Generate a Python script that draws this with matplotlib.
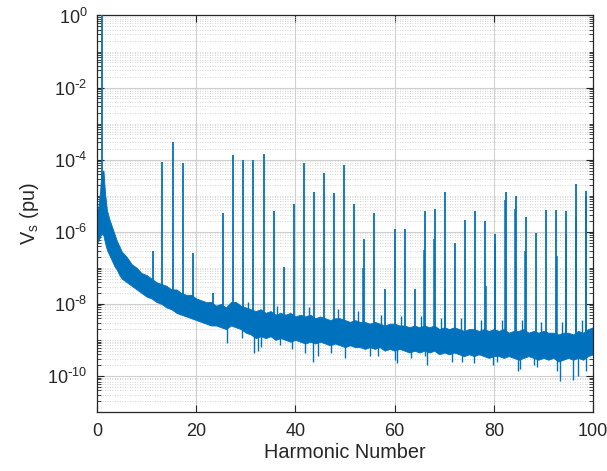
import numpy as np
import matplotlib
matplotlib.use("Agg")
import matplotlib.pyplot as plt
from matplotlib.ticker import FuncFormatter, FixedLocator, NullFormatter

plt.rcParams["font.family"] = ["Liberation Sans", "DejaVu Sans"]
plt.rcParams["mathtext.default"] = "regular"
plt.rcParams["axes.unicode_minus"] = False

# Harmonic spikes: position (harmonic number) and log10 magnitude (pu)
spike_h = [1.02, 11.2, 13.2, 15.3, 17.3, 19.3, 23.4, 25.4, 27.5, 29.5, 31.5,
           33.6, 35.6, 37.6, 39.7, 41.7, 43.7, 45.8, 47.8, 49.8, 51.9, 53.9,
           55.9, 58.0, 60.0, 62.0, 64.1, 66.1, 68.1, 70.2, 72.2, 74.2, 76.3,
           78.3, 80.3, 82.4, 84.4, 86.4, 88.5, 90.5, 92.5, 94.6, 96.6, 98.6]
spike_log = [0.0, -6.53, -4.07, -3.51, -4.08, -6.58, -7.69, -5.49, -3.88, -4.01,
             -4.0, -3.83, -5.43, -6.98, -5.22, -4.09, -4.9, -4.38, -4.93, -4.15,
             -5.24, -6.2, -5.49, -7.6, -5.91, -5.91, -7.6, -5.42, -5.36, -4.91,
             -6.32, -5.66, -5.43, -5.69, -6.05, -4.91, -5.01, -5.6, -6.04, -5.39,
             -5.39, -5.43, -4.68, -4.88]

# Neighbouring sideband lines next to some harmonics
side_h = [53.7, 66.0, 68.0, 70.1, 78.4, 80.2, 82.3, 84.3, 86.3, 92.7, 94.5, 96.5, 98.5]
side_log = [-7.0, -6.5, -6.2, -7.6, -7.5, -6.3, -5.13, -5.36, -6.54, -6.67,
            -6.06, -5.59, -5.0]

# Noise floor band (log10 of upper and lower edges)
floor_h = [0, 0.3, 0.6, 0.9, 1.3, 1.6, 2, 2.5, 3, 3.5, 4, 4.5] + list(range(5, 101))
floor_hi = [-5.5, -5.3, -4.9, -4.35, -4.3, -4.9, -5.4, -5.65, -5.85, -6.05, -6.25, -6.4,
            -6.55, -6.7, -6.9, -7.0, -7.15, -7.2, -7.3, -7.4, -7.45, -7.5,
            -7.6, -7.6, -7.7, -7.75, -7.75, -7.85, -7.9, -7.95, -7.95, -8.05,
            -8.0, -8.1, -7.95, -7.95, -8.05, -8.1, -8.15, -8.2, -8.15, -8.25,
            -8.2, -8.3, -8.25, -8.3, -8.25, -8.35, -8.3, -8.35, -8.3, -8.4,
            -8.35, -8.4, -8.45, -8.4, -8.4, -8.45, -8.5, -8.45, -8.5, -8.5,
            -8.55, -8.5, -8.55, -8.6, -8.55, -8.55, -8.6, -8.6, -8.65, -8.6,
            -8.65, -8.6, -8.65, -8.6, -8.7, -8.65, -8.7, -8.65, -8.7, -8.75,
            -8.7, -8.7, -8.75, -8.7, -8.75, -8.7, -8.75, -8.7, -8.8, -8.75,
            -8.75, -8.7, -8.8, -8.75, -8.8, -8.75, -8.8, -8.8, -8.85, -8.8,
            -8.8, -8.85, -8.75, -8.8, -8.7, -8.65]
floor_lo = [-6.3, -6.25, -6.15, -6.05, -6.1, -6.3, -6.5, -6.65, -6.8, -6.95, -7.05, -7.2,
            -7.3, -7.4, -7.5, -7.6, -7.7, -7.8, -7.85, -7.95, -8.0, -8.1,
            -8.15, -8.25, -8.3, -8.35, -8.4, -8.45, -8.5, -8.55, -8.6, -8.6,
            -8.65, -8.7, -8.6, -8.65, -8.7, -8.8, -8.85, -8.95, -8.9, -8.95,
            -8.9, -9.0, -8.95, -9.0, -9.05, -9.0, -9.05, -9.1, -9.05, -9.1,
            -9.05, -9.1, -9.15, -9.1, -9.15, -9.2, -9.15, -9.2, -9.2, -9.25,
            -9.2, -9.25, -9.2, -9.3, -9.25, -9.3, -9.25, -9.3, -9.35, -9.3,
            -9.35, -9.3, -9.35, -9.3, -9.4, -9.35, -9.4, -9.35, -9.4, -9.45,
            -9.4, -9.45, -9.4, -9.45, -9.5, -9.45, -9.45, -9.5, -9.45, -9.5,
            -9.55, -9.5, -9.45, -9.5, -9.55, -9.5, -9.55, -9.5, -9.6, -9.55,
            -9.5, -9.55, -9.5, -9.55, -9.45, -9.4]

# Downward excursions of the noise floor
dip_h = [26.3, 29.2, 31.6, 32.5, 33.1, 36.9, 39.3, 41.9, 43.6, 44.6, 47.2, 50.0,
         55.0, 56.7, 60.1, 60.4, 63.3, 66.1, 66.5, 71.5, 73.6, 76.0, 79.9, 80.6,
         84.9, 85.3, 88.0, 88.7, 92.7, 93.3, 96.0, 97.0, 98.5]
dip_log = [-9.1, -8.95, -9.35, -9.3, -9.2, -9.15, -9.25, -9.35, -9.6, -9.45,
           -9.35, -9.5, -9.45, -9.45, -9.55, -9.65, -9.5, -9.45, -9.7, -9.6,
           -9.6, -9.65, -9.7, -9.6, -9.85, -9.8, -9.7, -9.75, -9.85, -10.15,
           -10.1, -10.0, -9.85]

# Upward excursions of the noise floor near the harmonic skirts
bump_h = [30.5, 36.3, 42.7, 48.6, 52.7, 57.2, 61.3, 65.4, 69.4, 73.4, 77.5,
          81.6, 85.6, 89.6, 93.7, 97.7]
bump_log = [-7.95, -8.05, -8.1, -8.15, -8.2, -8.3, -8.35, -8.35, -8.4, -8.4,
            -8.45, -8.45, -8.45, -8.5, -8.5, -8.45]

x_ticks = [0, 20, 40, 60, 80, 100]
y_tick_exp = [0, -2, -4, -6, -8, -10]

blue = "#0072BD"
axis_col = "#262626"


def pow10_label(v, pos):
    e = int(round(np.log10(v)))
    if e < 0:
        return r"$10^{\text{-}%d}$" % (-e)
    return r"$10^{%d}$" % e


fig = plt.figure(figsize=(6.07, 4.71), dpi=100)
ax = fig.add_axes([0.1598, 0.1253, 0.8172, 0.8418])
ax.set_yscale("log")

fh = np.array(floor_h, dtype=float)
hi = np.array(floor_hi)
lo = np.array(floor_lo)
mid = 0.5 * (hi + lo)

# noise floor band
ax.fill_between(fh, 10.0 ** lo, 10.0 ** hi, color=blue, lw=0.6, edgecolor=blue, zorder=2)

# excursions below and above the band
dh = np.array(dip_h)
ax.vlines(dh, 10.0 ** np.interp(dh, fh, mid), 10.0 ** np.array(dip_log),
          color=blue, lw=1.0, zorder=2)
bh = np.array(bump_h)
ax.vlines(bh, 10.0 ** np.interp(bh, fh, mid), 10.0 ** np.array(bump_log),
          color=blue, lw=1.0, zorder=2)

# harmonic spikes rising from the band
sh = np.array(spike_h)
ax.vlines(sh, 10.0 ** np.interp(sh, fh, mid), 10.0 ** np.array(spike_log),
          color=blue, lw=1.3, zorder=3)
sdh = np.array(side_h)
ax.vlines(sdh, 10.0 ** np.interp(sdh, fh, mid), 10.0 ** np.array(side_log),
          color=blue, lw=1.1, zorder=3)

ax.set_xlim(0, 100)
ax.set_ylim(1e-11, 1e0)

ax.xaxis.set_major_locator(FixedLocator(x_ticks))
ax.yaxis.set_major_locator(FixedLocator([10.0 ** e for e in y_tick_exp]))
ax.yaxis.set_major_formatter(FuncFormatter(pow10_label))
ax.yaxis.set_minor_locator(FixedLocator(
    [m * 10.0 ** e for e in range(-11, 0) for m in range(1, 10)
     if not (m == 1 and e % 2 == 0)]))
ax.yaxis.set_minor_formatter(NullFormatter())

ax.grid(True, which="major", color="#d0d0d0", lw=0.8, ls="-", zorder=0)
ax.grid(True, which="minor", axis="y", color="#c8c8c8", lw=0.6, ls=(0, (1, 2)), zorder=0)
ax.set_axisbelow(True)

ax.tick_params(which="both", direction="in", top=True, right=True,
               colors=axis_col, labelsize=13)
ax.tick_params(which="major", length=5, width=0.8)
ax.tick_params(which="minor", length=3, width=0.6)
ax.tick_params(axis="x", pad=8)
ax.tick_params(axis="y", pad=7)
for s in ax.spines.values():
    s.set_color(axis_col)
    s.set_linewidth(0.9)

ax.set_xlabel("Harmonic Number", fontsize=14.3, color=axis_col, labelpad=2)
ax.set_ylabel("V$_{s}$ (pu)", fontsize=14.3, color=axis_col, labelpad=4)

fig.savefig("out.png", dpi=100)
